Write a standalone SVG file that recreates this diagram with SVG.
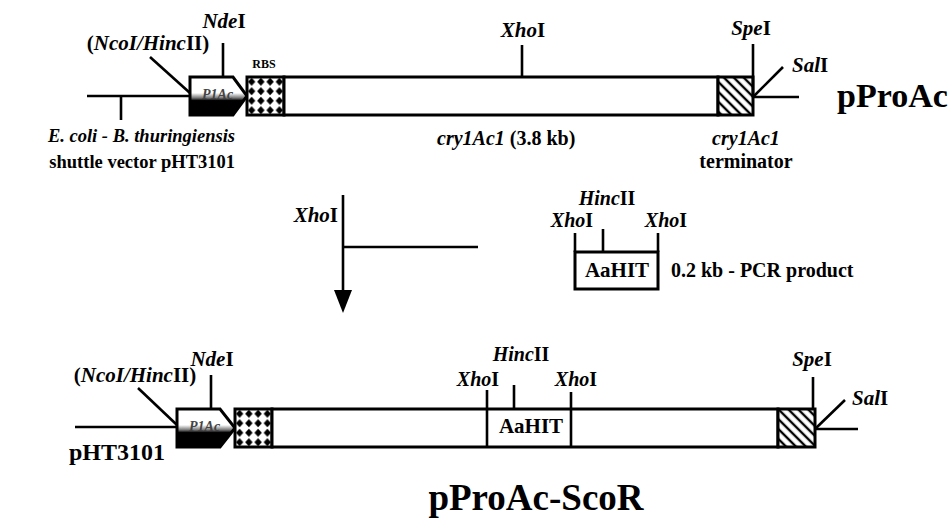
<svg xmlns="http://www.w3.org/2000/svg" width="952" height="520" viewBox="0 0 952 520">
<defs>
<style>
text{font-family:"Liberation Serif","Times New Roman",serif;font-weight:bold;fill:#000}
.it{font-style:italic}
.lbl{font-size:21px}
.sm{font-size:20px}
.box{fill:#fff;stroke:#000;stroke-width:3}
.ln{stroke:#000;stroke-width:2.6;fill:none}
.prom{fill:url(#pgrad);stroke:#000;stroke-width:3}
.rbs{fill:url(#dots);stroke:#000;stroke-width:3}
.term{fill:url(#hatch);stroke:#000;stroke-width:3}
.ptxt{font-size:14px;font-style:italic;fill:#444}
</style>
<linearGradient id="pgrad" x1="0" y1="0" x2="0" y2="1">
<stop offset="0" stop-color="#fff"/>
<stop offset="0.42" stop-color="#fff"/>
<stop offset="0.55" stop-color="#777"/>
<stop offset="0.62" stop-color="#000"/>
<stop offset="1" stop-color="#000"/>
</linearGradient>
<pattern id="dots" patternUnits="objectBoundingBox" width="0.25" height="0.25" patternContentUnits="objectBoundingBox">
<rect x="0" y="0" width="0.25" height="0.25" fill="#fff"/>
<polygon points="0.125,0.02 0.225,0.125 0.125,0.23 0.025,0.125" fill="#000"/>
</pattern>
<pattern id="hatch" patternUnits="userSpaceOnUse" width="7" height="7" patternTransform="rotate(-45)">
<rect x="0" y="0" width="7" height="7" fill="#fff"/>
<line x1="2" y1="0" x2="2" y2="7" stroke="#000" stroke-width="2.4"/>
</pattern>
</defs>

<!-- ===== top: pProAc ===== -->
<g id="top-vector">
<text class="it" font-size="18.5" x="235" y="142" text-anchor="end">E. coli - B. thuringiensis</text>
<text font-size="18.5" x="235" y="168" text-anchor="end">shuttle vector pHT3101</text>
</g>
<g id="top-promoter">
<polygon class="prom" points="190,77 233,77 247,96 233,115 190,115"/>
<text class="ptxt" x="202" y="99">P1Ac</text>
<text class="lbl" x="148" y="50" text-anchor="middle">(<tspan class="it">NcoI/Hinc</tspan>II)</text>
<text class="lbl" x="224" y="28" text-anchor="middle"><tspan class="it">Nde</tspan>I</text>
</g>
<g id="top-rbs">
<rect class="rbs" x="247" y="77" width="37" height="38"/>
<text x="264" y="68" text-anchor="middle" font-size="12">RBS</text>
</g>
<g id="top-cry">
<rect class="box" x="284" y="77" width="434" height="38"/>
<text class="lbl" x="523" y="37" text-anchor="middle"><tspan class="it">Xho</tspan>I</text>
<text font-size="20" x="437" y="145"><tspan class="it">cry1Ac1</tspan> (3.8 kb)</text>
</g>
<g id="top-terminator">
<rect class="term" x="718" y="77" width="35" height="38"/>
<text class="lbl" x="751" y="35" text-anchor="middle"><tspan class="it">Spe</tspan>I</text>
<text class="lbl" x="792" y="72"><tspan class="it">Sal</tspan>I</text>
<text class="sm it" x="746" y="145" text-anchor="middle">cry1Ac1</text>
<text class="sm" x="746" y="168" text-anchor="middle">terminator</text>
</g>
<g id="top-title">
<text x="837" y="107" font-size="34">pProAc</text>
</g>

<!-- ===== middle ===== -->
<g id="mid-cut">
<text class="lbl" x="338" y="222" text-anchor="end"><tspan class="it">Xho</tspan>I</text>
</g>
<g id="mid-pcr">
<rect class="box" x="575" y="252" width="83" height="37"/>
<text class="lbl" x="617" y="277" text-anchor="middle">AaHIT</text>
<text class="sm" x="607" y="205" text-anchor="middle"><tspan class="it">Hinc</tspan>II</text>
<text class="sm" x="572" y="227" text-anchor="middle"><tspan class="it">Xho</tspan>I</text>
<text class="sm" x="666" y="227" text-anchor="middle"><tspan class="it">Xho</tspan>I</text>
<text x="671" y="277" font-size="20">0.2 kb - PCR product</text>
</g>

<!-- ===== bottom: pProAc-ScoR ===== -->
<g id="bot-vector">
<text x="69" y="460" font-size="24">pHT3101</text>
</g>
<g id="bot-promoter">
<polygon class="prom" points="177,409 220,409 235,428 220,447 177,447"/>
<text class="ptxt" x="189" y="431">P1Ac</text>
<text class="lbl" x="135" y="382" text-anchor="middle">(<tspan class="it">NcoI/Hinc</tspan>II)</text>
<text class="lbl" x="212" y="366" text-anchor="middle"><tspan class="it">Nde</tspan>I</text>
</g>
<g id="bot-rbs">
<rect class="rbs" x="235" y="409" width="37" height="38"/>
</g>
<g id="bot-cry">
<rect class="box" x="272" y="409" width="506" height="38"/>
<text class="lbl" x="531" y="433" text-anchor="middle">AaHIT</text>
<text class="sm" x="521" y="361" text-anchor="middle"><tspan class="it">Hinc</tspan>II</text>
<text class="sm" x="478" y="386" text-anchor="middle"><tspan class="it">Xho</tspan>I</text>
<text class="sm" x="576" y="386" text-anchor="middle"><tspan class="it">Xho</tspan>I</text>
</g>
<g id="bot-terminator">
<rect class="term" x="778" y="409" width="37" height="38"/>
<text class="lbl" x="812" y="366" text-anchor="middle"><tspan class="it">Spe</tspan>I</text>
<text class="lbl" x="852" y="405"><tspan class="it">Sal</tspan>I</text>
</g>
<g id="bot-title">
<text x="536" y="510" font-size="37" text-anchor="middle">pProAc-ScoR</text>
</g>

<g id="connectors">
<!-- top construct -->
<line class="ln" x1="87" y1="96" x2="190" y2="96"/>
<line class="ln" x1="121" y1="96" x2="121" y2="120"/>
<line class="ln" x1="150" y1="57" x2="190" y2="93"/>
<line class="ln" x1="223" y1="43" x2="223" y2="77"/>
<line class="ln" x1="522" y1="45" x2="522" y2="77"/>
<line class="ln" x1="753" y1="44" x2="753" y2="97"/>
<line class="ln" x1="753" y1="97" x2="783" y2="67"/>
<line class="ln" x1="753" y1="97" x2="799" y2="97"/>
<!-- middle -->
<line class="ln" x1="343" y1="195" x2="343" y2="292"/>
<polygon points="334,290 352,290 343,313" fill="#000"/>
<line class="ln" x1="343" y1="247" x2="478" y2="247"/>
<line class="ln" x1="575" y1="233" x2="575" y2="252"/>
<line class="ln" x1="658" y1="233" x2="658" y2="252"/>
<line class="ln" x1="603" y1="229" x2="603" y2="252"/>
<!-- bottom construct -->
<line class="ln" x1="75" y1="427" x2="177" y2="427"/>
<line class="ln" x1="138" y1="388" x2="177" y2="425"/>
<line class="ln" x1="211" y1="375" x2="211" y2="409"/>
<line class="ln" x1="487" y1="390" x2="487" y2="447"/>
<line class="ln" x1="571" y1="392" x2="571" y2="447"/>
<line class="ln" x1="514" y1="385" x2="514" y2="410"/>
<line class="ln" x1="813" y1="377" x2="813" y2="410"/>
<line class="ln" x1="815" y1="429" x2="845" y2="400"/>
<line class="ln" x1="815" y1="429" x2="858" y2="429"/>
</g>
</svg>
